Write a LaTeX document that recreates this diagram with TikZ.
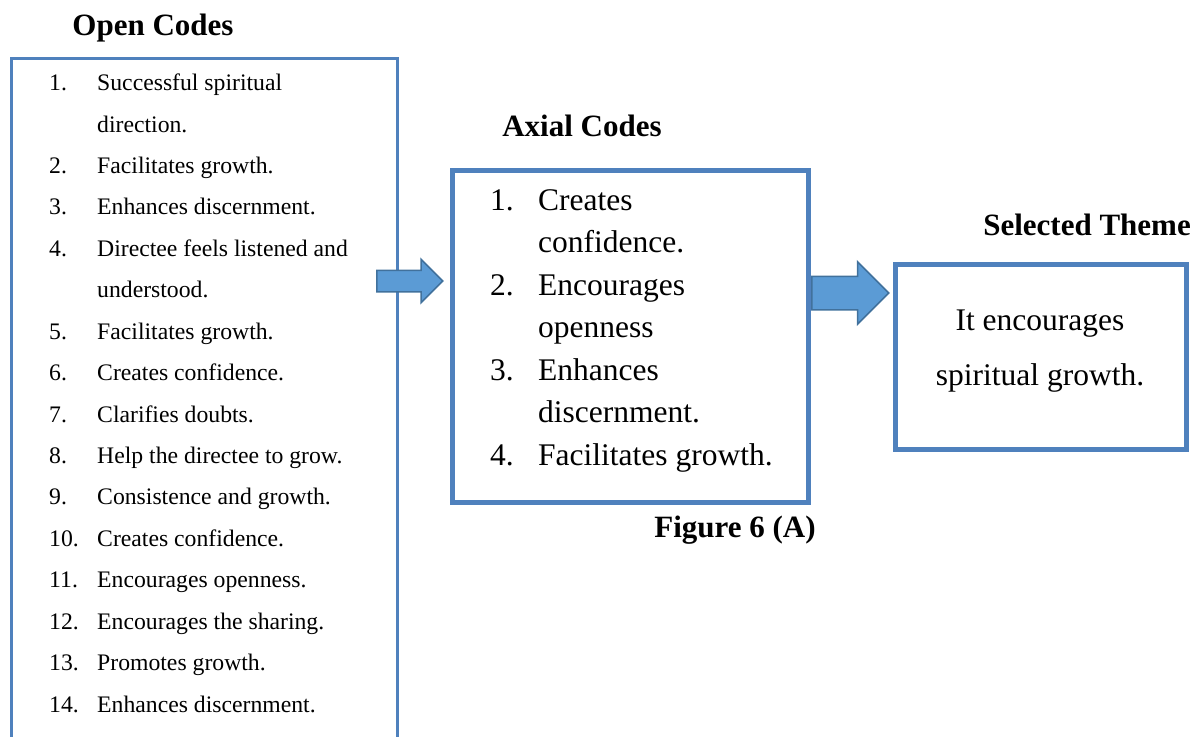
\documentclass[tikz,border=0pt]{standalone}
\usepackage{fontspec}
\setmainfont{Liberation Serif}
\usetikzlibrary{shapes.arrows}
\definecolor{boxblue}{HTML}{4F81BD}
\definecolor{arrowfill}{HTML}{5B9BD5}
\definecolor{arrowline}{HTML}{41719C}
\tikzset{
  codebox/.style={draw=boxblue, line width=4.5pt, rectangle, inner sep=0pt, anchor=north west},
  heading/.style={font=\fontsize{31}{36}\selectfont\bfseries, anchor=base, inner sep=0pt},
  opentext/.style={font=\fontsize{23.7}{28}\selectfont, anchor=base west, inner sep=0pt},
  axialtext/.style={font=\fontsize{31.5}{36}\selectfont, anchor=base west, inner sep=0pt},
  themetext/.style={font=\fontsize{31.5}{36}\selectfont, anchor=base, inner sep=0pt},
  blockarrow/.style={single arrow, draw=arrowline, fill=arrowfill, line width=1.5pt,
    single arrow tip angle=90, inner sep=0pt, anchor=tail}
}
\begin{document}
\begin{tikzpicture}[x=1pt,y=-1pt]
\useasboundingbox (0,0) rectangle (1199,736);

% headings
\node[heading] (openhead) at (153,35) {Open Codes};
\node[heading] (axialhead) at (582,136) {Axial Codes};
\node[heading] (themehead) at (1087,235) {Selected Theme};
\node[heading] (caption) at (735,537) {Figure 6 (A)};

% boxes
\node[codebox, line width=2.5pt, minimum width=386pt, minimum height=740pt] (open) at (10,57) {};
\node[codebox, minimum width=356pt, minimum height=332pt] (axial) at (450,168) {};
\node[codebox, minimum width=291pt, minimum height=185pt] (theme) at (893,262) {};

% open codes
\foreach \i/\n/\t in {0/1./Successful spiritual, 1//direction., 2/2./Facilitates growth.,
    3/3./Enhances discernment., 4/4./Directee feels listened and, 5//understood.,
    6/5./Facilitates growth., 7/6./Creates confidence., 8/7./Clarifies doubts.,
    9/8./Help the directee to grow., 10/9./Consistence and growth., 11/10./Creates confidence.,
    12/11./Encourages openness., 13/12./Encourages the sharing., 14/13./Promotes growth.,
    15/14./Enhances discernment.}{
  \node[opentext] (on\i) at (49,90.7+41.42*\i) {\n};
  \node[opentext] (ot\i) at (97,90.7+41.42*\i) {\t};
}

% axial codes
\foreach \i/\n/\t in {0/1./Creates, 1//confidence., 2/2./Encourages, 3//openness,
    4/3./Enhances, 5//discernment., 6/4./Facilitates growth.}{
  \node[axialtext] (an\i) at (490,210+42.5*\i) {\n};
  \node[axialtext] (at\i) at (538,210+42.5*\i) {\t};
}

% selected theme
\node[themetext] (theme1) at (1040,330) {It encourages};
\node[themetext] (theme2) at (1040,385) {spiritual growth.};

% arrows (shaft thickness set by the strut)
\node[blockarrow, minimum height=66pt, single arrow head extend=11pt] (arrow1) at (376,281) {\rule{0pt}{20pt}};
\node[blockarrow, minimum height=77pt, single arrow head extend=14.5pt] (arrow2) at (811,293) {\rule{0pt}{32pt}};
\end{tikzpicture}
\end{document}
